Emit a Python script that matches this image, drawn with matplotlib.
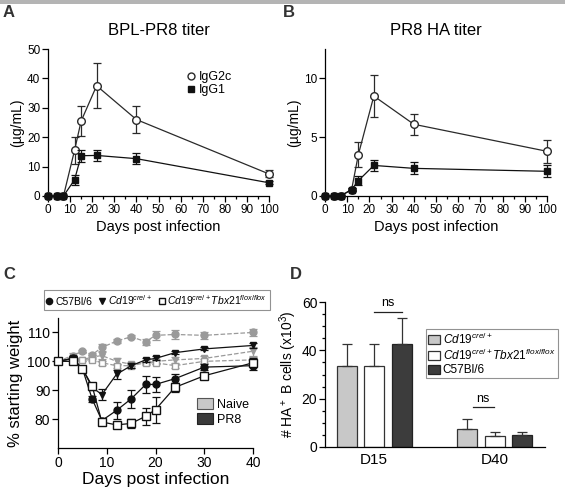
import numpy as np
import matplotlib
matplotlib.use("Agg")
import matplotlib.pyplot as plt
from matplotlib.patches import Patch, Rectangle
from matplotlib.lines import Line2D
from matplotlib.ticker import MultipleLocator

plt.rcParams['font.family'] = ['Liberation Sans', 'DejaVu Sans']
plt.rcParams['mathtext.fontset'] = 'custom'
plt.rcParams['mathtext.rm'] = 'Liberation Sans'
plt.rcParams['mathtext.it'] = 'Liberation Sans:italic'
plt.rcParams['axes.linewidth'] = 0.9

# Panel A / B data
days_ab = [0, 4, 7, 12, 15, 22, 40, 100]
a_igg2c = [0, 0, 0, 15.5, 25.5, 37.5, 26, 7.5]
a_igg2c_err = [0, 0, 0, 4.5, 5, 7.7, 4.5, 1.2]
a_igg1 = [0, 0, 0, 5.5, 13.7, 13.8, 12.7, 4.5]
a_igg1_err = [0, 0, 0, 1.6, 2.0, 2.0, 1.8, 0.5]

b_igg2c = [0, 0, 0, 0.55, 3.5, 8.5, 6.1, 3.8]
b_igg2c_err = [0, 0, 0, 0.1, 1.05, 1.8, 0.9, 1.0]
b_igg1 = [0, 0, 0, 0.55, 1.3, 2.6, 2.35, 2.1]
b_igg1_err = [0, 0, 0, 0.1, 0.4, 0.5, 0.5, 0.5]

# Panel C data (weight %)
days_c = [0, 3, 5, 7, 9, 12, 15, 18, 20, 24, 30, 40]
naive_b6 = [100, 102, 103.5, 102.3, 104.8, 107, 108.5, 106.8, 109, 109.3, 109, 110]
naive_b6_err = [0, 1, 0.5, 0.7, 1.2, 0.6, 0.5, 1.0, 1.5, 1.5, 1.2, 1.2]
naive_cre = [100, 101, 100.5, 101.5, 102, 100, 99, 99.5, 100, 100.5, 101, 103.5]
naive_cre_err = [0, 1, 0.5, 0.7, 1.2, 1.0, 0.7, 0.7, 0.8, 1.0, 1.0, 1.5]
naive_tbx = [100, 100, 100.5, 100.5, 99.5, 98.5, 98.5, 99.5, 99.5, 98.5, 100, 100.5]
naive_tbx_err = [0, 0.5, 0.5, 0.5, 0.7, 0.7, 0.7, 0.5, 0.5, 0.7, 0.7, 1.0]
pr8_b6 = [100, 101, 97.5, 87, 79.5, 83, 87, 92, 92, 94, 98, 98.5]
pr8_b6_err = [0, 0.7, 0.7, 1.0, 1.0, 3.0, 3.0, 3.0, 2.5, 1.5, 1.0, 1.5]
pr8_cre = [100, 101, 97.5, 91, 88.5, 95.5, 98.5, 100.5, 101, 103, 104.3, 105.5]
pr8_cre_err = [0, 0.7, 0.7, 1.0, 2.0, 1.5, 0.8, 0.7, 0.7, 0.5, 0.5, 0.8]
pr8_tbx = [100, 100, 97.5, 91.5, 79, 78, 78.5, 81, 83.3, 91, 95, 99.5]
pr8_tbx_err = [0, 0.5, 0.7, 1.0, 1.0, 0.7, 1.5, 3.0, 4.5, 1.5, 0.7, 1.5]

# Panel D data
groups = ['D15', 'D40']
bar_cre = [33.5, 7.5]
bar_cre_err = [9, 4]
bar_tbx = [33.5, 4.7]
bar_tbx_err = [9, 1.6]
bar_b6 = [42.5, 5.0]
bar_b6_err = [11, 1.3]

fig = plt.figure(figsize=(5.65, 4.95), dpi=100)

# thin grey strip at top of the screenshot
fig.add_artist(Rectangle((0, 1 - 4 / 495), 1, 4 / 495, transform=fig.transFigure,
                         color='#b4b4b4', lw=0))


def style_axes(ax):
    for s in ['top', 'right']:
        ax.spines[s].set_visible(False)
    ax.tick_params(direction='out', length=4, width=0.9, labelsize=8.5, pad=1.5)
    ax.tick_params(which='minor', direction='out', length=2.5, width=0.9)


def titer_panel(ax, g2c, g2c_err, g1, g1_err, ymax, ystep, title):
    ax.errorbar(days_ab, g2c, yerr=g2c_err, fmt='-o', color='#2a2a2a', mfc='white',
                mec='#2a2a2a', ms=5.5, lw=0.9, capsize=3, elinewidth=0.9,
                capthick=0.9, clip_on=False, zorder=3)
    ax.errorbar(days_ab, g1, yerr=g1_err, fmt='-s', color='#111111', mfc='#111111',
                mec='#111111', ms=5, lw=0.9, capsize=3, elinewidth=0.9,
                capthick=0.9, clip_on=False, zorder=4)
    ax.set_xlim(0, 100)
    ax.set_ylim(0, ymax)
    ax.xaxis.set_major_locator(MultipleLocator(10))
    ax.xaxis.set_minor_locator(MultipleLocator(5))
    ax.yaxis.set_major_locator(MultipleLocator(ystep))
    style_axes(ax)
    ax.set_title(title, fontsize=12, pad=10)
    ax.set_xlabel('Days post infection', fontsize=10.5, labelpad=3)
    ax.set_ylabel('(µg/mL)', fontsize=10, labelpad=2)


axA = fig.add_axes([48 / 565, 1 - 196 / 495, 221 / 565, 147 / 495])
titer_panel(axA, a_igg2c, a_igg2c_err, a_igg1, a_igg1_err, 50, 10, 'BPL-PR8 titer')
ab_handles = [Line2D([], [], marker='o', ls='', mfc='white', mec='#2a2a2a', ms=5),
              Line2D([], [], marker='s', ls='', color='#111111', ms=4.5)]
axA.legend(handles=ab_handles, labels=['IgG2c', 'IgG1'], loc='upper left',
           bbox_to_anchor=(0.63, 0.85), frameon=False,
           fontsize=9, handlelength=0.6, handletextpad=0.3, labelspacing=0.1,
           borderaxespad=0, borderpad=0)

axB = fig.add_axes([325 / 565, 1 - 196 / 495, 222 / 565, 147 / 495])
titer_panel(axB, b_igg2c, b_igg2c_err, b_igg1, b_igg1_err, 12.5, 5, 'PR8 HA titer')

# Panel C
axC = fig.add_axes([58 / 565, 1 - 448 / 495, 195 / 565, 130 / 495])
gray = '#9a9a9a'
kw = dict(lw=0.9, capsize=3, elinewidth=0.9, capthick=0.9, clip_on=False)
axC.errorbar(days_c, naive_b6, yerr=naive_b6_err, fmt='o', ls='--', color=gray,
             mfc=gray, mec=gray, ms=5, zorder=2, **kw)
axC.errorbar(days_c, naive_cre, yerr=naive_cre_err, fmt='v', ls='--', color=gray,
             mfc=gray, mec=gray, ms=5, zorder=2, **kw)
axC.errorbar(days_c, naive_tbx, yerr=naive_tbx_err, fmt='s', ls='--', color=gray,
             mfc='white', mec=gray, ms=5, zorder=2, **kw)
axC.errorbar(days_c, pr8_cre, yerr=pr8_cre_err, fmt='-v', color='#111111',
             mfc='#111111', mec='#111111', ms=5, zorder=3, **kw)
axC.errorbar(days_c, pr8_b6, yerr=pr8_b6_err, fmt='-o', color='#111111',
             mfc='#111111', mec='#111111', ms=5, zorder=3, **kw)
axC.errorbar(days_c, pr8_tbx, yerr=pr8_tbx_err, fmt='-s', color='#111111',
             mfc='white', mec='#111111', ms=5.5, zorder=4, **kw)
axC.set_xlim(0, 40)
axC.set_ylim(70, 115)
axC.set_xticks([0, 10, 20, 30, 40])
axC.set_yticks([80, 90, 100, 110])
style_axes(axC)
axC.tick_params(labelsize=10)
axC.set_xlabel('Days post infection', fontsize=12.5, labelpad=2)
axC.set_ylabel('% starting weight', fontsize=12, labelpad=3)

axC.legend(handles=[Patch(facecolor='#c8c8c8', edgecolor='#555555', lw=0.8),
                    Patch(facecolor='#3a3a3a', edgecolor='#222222', lw=0.8)],
           labels=['Naive', 'PR8'], loc='lower right', bbox_to_anchor=(0.98, 0.17),
           frameon=False, fontsize=9, handlelength=1.3, handleheight=0.9,
           handletextpad=0.3, labelspacing=0.2, borderaxespad=0, borderpad=0)

strain_handles = [
    Line2D([], [], marker='o', ls='', color='#111111', ms=4.5),
    Line2D([], [], marker='v', ls='', color='#111111', ms=4.5),
    Line2D([], [], marker='s', ls='', mfc='white', mec='#111111', ms=5),
]
strain_labels = ['C57Bl/6', r'$\mathit{Cd19}^{\mathit{cre/+}}$',
                 r'$\mathit{Cd19}^{\mathit{cre/+}}\mathit{Tbx21}^{\mathit{flox/flox}}$']
leg = fig.legend(handles=strain_handles, labels=strain_labels, ncol=3,
                 loc='center', bbox_to_anchor=(157 / 565, 1 - 300 / 495),
                 fontsize=7.5, frameon=True, fancybox=False, edgecolor='#777777',
                 handlelength=0.5, handletextpad=0.3, columnspacing=0.7,
                 borderpad=0.25, borderaxespad=0)
leg.get_frame().set_linewidth(0.8)

# Panel D
axD = fig.add_axes([325 / 565, 1 - 447 / 495, 220 / 565, 145 / 495])
x = np.arange(len(groups))
off = 0.229
w = 0.167
ekw = dict(elinewidth=0.9, capsize=3.5, capthick=0.9, ecolor='#333333')
axD.bar(x - off, bar_cre, w, yerr=[np.zeros(2), bar_cre_err], color='#c8c8c8',
        edgecolor='#333333', lw=0.9, error_kw=ekw, label=r'$\mathit{Cd19}^{\mathit{cre/+}}$')
axD.bar(x, bar_tbx, w, yerr=[np.zeros(2), bar_tbx_err], color='white',
        edgecolor='#333333', lw=0.9, error_kw=ekw,
        label=r'$\mathit{Cd19}^{\mathit{cre/+}}\mathit{Tbx21}^{\mathit{flox/flox}}$')
axD.bar(x + off, bar_b6, w, yerr=[np.zeros(2), bar_b6_err], color='#3c3c3c',
        edgecolor='#222222', lw=0.9, error_kw=ekw, label='C57Bl/6')
axD.set_xlim(-0.408, 1.417)
axD.set_ylim(0, 60)
axD.set_xticks(x)
axD.set_xticklabels(groups, fontsize=11)
axD.yaxis.set_major_locator(MultipleLocator(20))
axD.yaxis.set_minor_locator(MultipleLocator(5))
style_axes(axD)
axD.tick_params(axis='x', length=0, pad=4, labelsize=11)
axD.tick_params(axis='y', labelsize=10)
axD.set_ylabel(r'# HA$^+$ B cells (x10$^3$)', fontsize=10, labelpad=2)

# ns brackets
axD.plot([0, off], [56, 56], color='#222222', lw=0.9)
axD.text(off / 2, 57, 'ns', ha='center', va='bottom', fontsize=9)
axD.plot([1 - off + 0.05, 1 - 0.01], [16.5, 16.5], color='#222222', lw=0.9)
axD.text(1 - off / 2 + 0.02, 17.5, 'ns', ha='center', va='bottom', fontsize=9)

legD = axD.legend(loc='upper left', bbox_to_anchor=(101 / 220, 1 - 27 / 145),
                  fontsize=8.5, frameon=True, fancybox=False, edgecolor='#777777',
                  handlelength=1.0, handleheight=0.8, handletextpad=0.2,
                  labelspacing=0.1, borderpad=0.2, borderaxespad=0)
legD.get_frame().set_linewidth(0.8)

# panel letters
for lbl, px, py in [('A', 3, 17), ('B', 283, 17), ('C', 3, 279), ('D', 290, 279)]:
    fig.text(px / 565, 1 - py / 495, lbl, fontsize=12, fontweight='bold',
             color='#333333', ha='left', va='baseline')

fig.savefig('out.png', dpi=100)
